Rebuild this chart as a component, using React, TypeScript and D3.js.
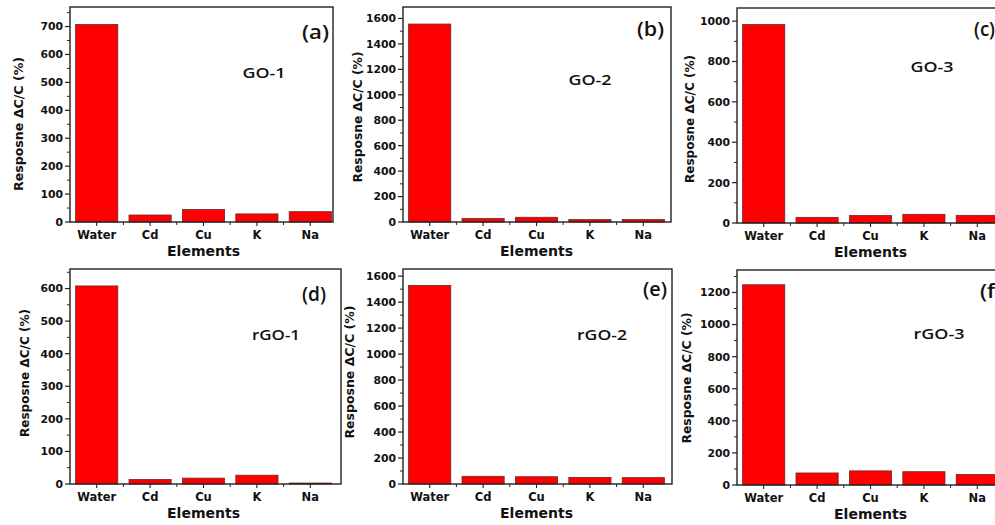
import React from 'react';
import * as d3 from 'd3';

// Categories on the x axis
const elements = ['Water', 'Cd', 'Cu', 'K', 'Na'];

// Response ΔC/C (%) for each sample
const go1 = [707, 25, 45, 29, 37];
const go2 = [1556, 27, 37, 19, 20];
const go3 = [983, 28, 37, 43, 38];
const rgo1 = [608, 14, 18, 27, 3];
const rgo2 = [1529, 59, 56, 51, 49];
const rgo3 = [1248, 75, 88, 83, 66];

// Labelled y ticks per panel
const ticksA = [0, 100, 200, 300, 400, 500, 600, 700];
const ticksB = [0, 200, 400, 600, 800, 1000, 1200, 1400, 1600];
const ticksC = [0, 200, 400, 600, 800, 1000];
const ticksD = [0, 100, 200, 300, 400, 500, 600];
const ticksE = [0, 200, 400, 600, 800, 1000, 1200, 1400, 1600];
const ticksF = [0, 200, 400, 600, 800, 1000, 1200];

const sampleNames = ['GO-1', 'GO-2', 'GO-3', 'rGO-1', 'rGO-2', 'rGO-3'];
const panelTags = ['(a)', '(b)', '(c)', '(d)', '(e)', '(f)'];

const W = 995;
const H = 525;
const BAND_W = 267;
const BOX_H = 215;

const FONT = '"DejaVu Sans", Verdana, sans-serif';
const NOTE_FONT = '"Open Sans", "DejaVu Sans", sans-serif';

type Layout = {
  left: number;
  top: number;
  frameW: number;
  yMax: number;
  name: [number, number, number];
  tag: [number, number, number];
  yLabel: [number, number, number];
};

// Placement of each panel box and its annotations
const layouts: Layout[] = [
  { left: 70, top: 7, frameW: 263, yMax: 770, name: [194, 71, 43], tag: [232, 32, 27], yLabel: [-51, 117, 134] },
  { left: 403, top: 7, frameW: 268, yMax: 1690, name: [187, 78, 43], tag: [234, 29, 27], yLabel: [-45, 110, 131] },
  { left: 737, top: 8, frameW: 267, yMax: 1065, name: [195, 64, 43], tag: [237, 28, 21], yLabel: [-47, 111, 128] },
  { left: 70, top: 269, frameW: 271, yMax: 660, name: [206, 71, 48], tag: [232, 32, 24], yLabel: [-45, 104, 128] },
  { left: 403, top: 269, frameW: 269, yMax: 1655, name: [199, 71, 50], tag: [240, 27, 24], yLabel: [-53, 103, 133] },
  { left: 737, top: 270, frameW: 267, yMax: 1340, name: [202, 69, 51], tag: [243, 28, 22], yLabel: [-50, 108, 131] },
];

const series = [go1, go2, go3, rgo1, rgo2, rgo3];
const majorTicks = [ticksA, ticksB, ticksC, ticksD, ticksE, ticksF];

function Panel({ idx }: { idx: number }) {
  const L = layouts[idx];
  const values = series[idx];
  const ticks = majorTicks[idx];
  const step = ticks[1] - ticks[0];

  const x = d3
    .scaleBand<string>()
    .domain(elements)
    .range([0, BAND_W])
    .paddingInner(0.21)
    .paddingOuter(0.105);
  const y = d3.scaleLinear().domain([0, L.yMax]).range([BOX_H, 0]);

  const minor = d3.range(step / 2, L.yMax, step).filter((v) => !ticks.includes(v));
  const bandStep = x.step();
  const between = d3.range(1, elements.length).map((k) => k * bandStep);

  return (
    <g transform={`translate(${L.left},${L.top})`}>
      {values.map((v, i) => (
        <rect
          key={elements[i]}
          x={x(elements[i])}
          y={y(v)}
          width={x.bandwidth()}
          height={BOX_H - y(v)}
          fill="#ff0000"
          stroke="#6b2a2a"
          strokeWidth={0.8}
        />
      ))}
      <rect x={0} y={0} width={L.frameW} height={BOX_H} fill="none" stroke="#222" strokeWidth={1.4} />
      {ticks.map((t) => (
        <g key={t} transform={`translate(0,${y(t)})`}>
          <line x1={-5} x2={0} stroke="#222" strokeWidth={1.2} />
          <text
            x={-7}
            dy="0.36em"
            textAnchor="end"
            fontFamily={FONT}
            fontWeight="bold"
            fontSize={10.8}
            fill="#111"
          >
            {t}
          </text>
        </g>
      ))}
      {minor.map((t) => (
        <line key={t} x1={-3} x2={0} y1={y(t)} y2={y(t)} stroke="#222" strokeWidth={1} />
      ))}
      {elements.map((e) => {
        const cx = (x(e) as number) + x.bandwidth() / 2;
        return (
          <g key={e}>
            <line x1={cx} x2={cx} y1={BOX_H} y2={BOX_H + 4} stroke="#222" strokeWidth={1.1} />
            <text
              x={cx}
              y={BOX_H + 17}
              textAnchor="middle"
              fontFamily={FONT}
              fontWeight="bold"
              fontSize={11.5}
              fill="#111"
            >
              {e}
            </text>
          </g>
        );
      })}
      {between.map((bx) => (
        <line key={bx} x1={bx} x2={bx} y1={BOX_H} y2={BOX_H + 3} stroke="#222" strokeWidth={1} />
      ))}
      <text
        x={BAND_W / 2}
        y={BOX_H + 34}
        textAnchor="middle"
        fontFamily={FONT}
        fontWeight="bold"
        fontSize={14}
        fill="#111"
      >
        Elements
      </text>
      <text
        transform={`translate(${L.yLabel[0]},${L.yLabel[1]}) rotate(-90)`}
        textAnchor="middle"
        dy="0.35em"
        fontFamily={FONT}
        fontWeight="bold"
        fontSize={12}
        textLength={L.yLabel[2]}
        lengthAdjust="spacingAndGlyphs"
        fill="#111"
      >
        Resposne ΔC/C (%)
      </text>
      <text
        x={L.name[0]}
        y={L.name[1]}
        textAnchor="middle"
        fontFamily={NOTE_FONT}
        fontWeight={600}
        fontSize={14.5}
        textLength={L.name[2]}
        lengthAdjust="spacingAndGlyphs"
        fill="#111"
      >
        {sampleNames[idx]}
      </text>
      <text
        x={L.tag[0]}
        y={L.tag[1]}
        fontFamily={NOTE_FONT}
        fontWeight={600}
        fontSize={19}
        textLength={L.tag[2]}
        lengthAdjust="spacingAndGlyphs"
        fill="#111"
      >
        {panelTags[idx]}
      </text>
    </g>
  );
}

export default function App() {
  return (
    <svg
      width={W}
      height={H}
      viewBox={`0 0 ${W} ${H}`}
      style={{ position: 'absolute', left: 0, top: 0, background: '#fff', display: 'block' }}
    >
      <rect width={W} height={H} fill="#fff" />
      {layouts.map((_, i) => (
        <Panel key={i} idx={i} />
      ))}
    </svg>
  );
}
